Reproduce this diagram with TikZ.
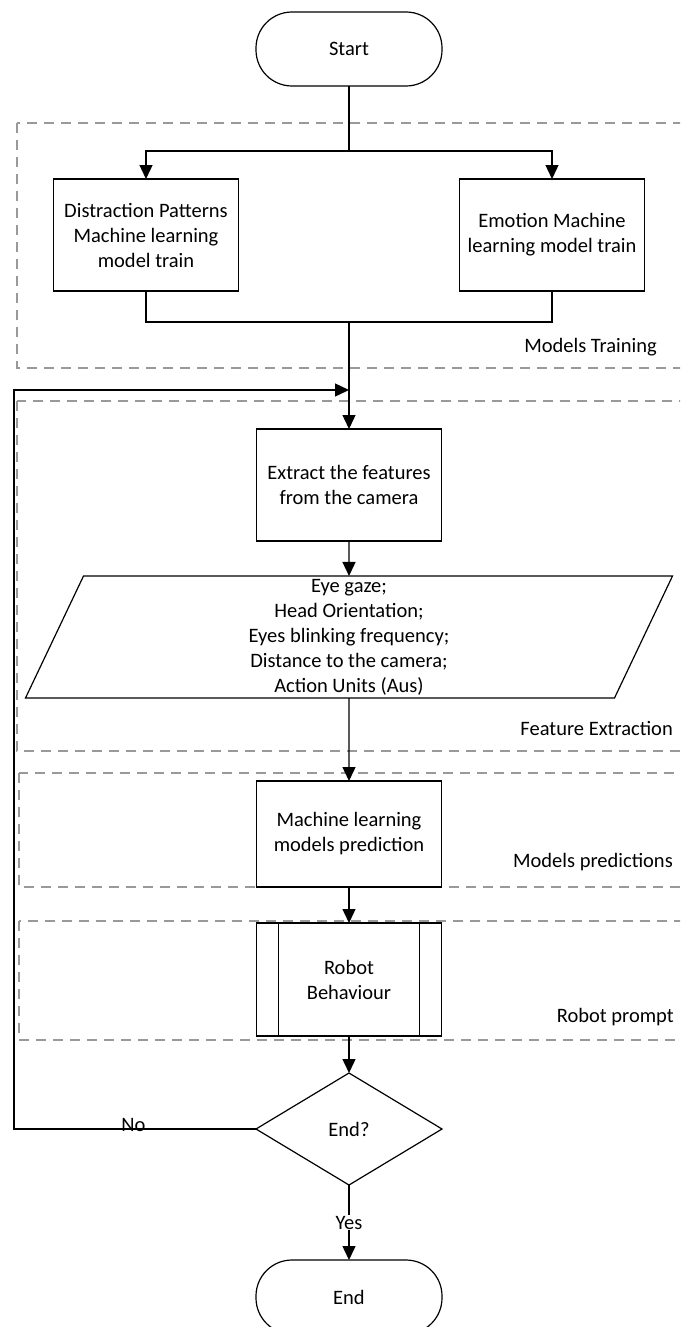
\documentclass[tikz,border=0pt]{standalone}
\usepackage{fontspec}
\setmainfont{Carlito}
\usetikzlibrary{arrows.meta,shapes.geometric}
\begin{document}
\begin{tikzpicture}[x=1pt,y=-1pt,
  every node/.style={font=\fontsize{20.5}{25}\selectfont, text=black},
  proc/.style={draw, line width=1.4pt, minimum width=185pt, align=center, inner sep=2pt, outer sep=0pt},
  term/.style={draw, line width=1.2pt, rounded corners=36pt, minimum width=186pt, minimum height=74pt, outer sep=0pt},
  group/.style={draw=gray!80, line width=2.2pt, dash pattern=on 10pt off 7pt},
  grouplabel/.style={anchor=east, inner sep=0pt},
  conn/.style={line width=1.4pt, -{Triangle[width=13pt,length=14pt]}},
  plain/.style={line width=1.4pt}]
\clip (0,0) rectangle (680,1327);
% group frames
\draw[group] (17,123) rectangle (700,368);
\draw[group] (17,401) rectangle (700,751);
\draw[group] (19,773) rectangle (700,887);
\draw[group] (19,921) rectangle (700,1040);
\node[grouplabel] (lt1) at (657,347) {Models Training};
\node[grouplabel] (lt2) at (673,728) {Feature Extraction};
\node[grouplabel] (lt3) at (673,862) {Models predictions};
\node[grouplabel] (lt4) at (674,1017) {Robot prompt};
% nodes
\node[term] (start) at (349,49) {Start};
\node[proc, minimum height=112pt] (b1) at (146,235) {Distraction Patterns\\Machine learning\\model train};
\node[proc, minimum height=112pt] (b2) at (552,235) {Emotion Machine\\learning model train};
\node[proc, minimum height=112pt] (ext) at (349,485) {Extract the features\\from the camera};
\node[trapezium, draw, line width=1.2pt, trapezium left angle=63.43, trapezium right angle=116.57, trapezium stretches body, minimum width=647pt, minimum height=122pt, align=center, inner sep=0pt, outer sep=0pt] (para) at (349,637) {Eye gaze;\\Head Orientation;\\Eyes blinking frequency;\\Distance to the camera;\\Action Units (Aus)};
\node[proc, minimum height=106pt] (ml) at (349,834) {Machine learning\\models prediction};
\node[proc, minimum height=113pt] (rob) at (349,979.5) {Robot\\Behaviour};
\draw[line width=1.2pt] ([xshift=22pt]rob.north west) -- ([xshift=22pt]rob.south west);
\draw[line width=1.2pt] ([xshift=-22pt]rob.north east) -- ([xshift=-22pt]rob.south east);
\node[diamond, draw, line width=1.2pt, minimum width=186pt, minimum height=112pt, inner sep=0pt, outer sep=0pt] (dec) at (349,1129) {End?};
\node[term] (end) at (349,1297) {End};
% connectors
\coordinate (split) at (349,151);
\coordinate (merge) at (349,322);
\coordinate (fbin) at (349,390);
\coordinate (fbtop) at (14,390);
\coordinate (fbbot) at (14,1129);
\draw[plain] (start.south) -- (split);
\draw[conn] (split) -| (b1.north);
\draw[conn] (split) -| (b2.north);
\draw[plain] (b1.south) |- (merge);
\draw[plain] (b2.south) |- (merge);
\draw[conn] (merge) -- (ext.north);
\draw[conn] (ext.south) -- (para.north);
\draw[conn] (para.south) -- (ml.north);
\draw[conn] (ml.south) -- (rob.north);
\draw[conn] (rob.south) -- (dec.north);
\draw[conn] (dec.south) -- node[fill=white, inner sep=1pt] (yes) {Yes} (end.north);
\draw[conn] (dec.west) -- (fbbot) -- (fbtop) -- (fbin);
\node[anchor=base, inner sep=0pt] (no) at (133.5,1131) {No};
\end{tikzpicture}
\end{document}
